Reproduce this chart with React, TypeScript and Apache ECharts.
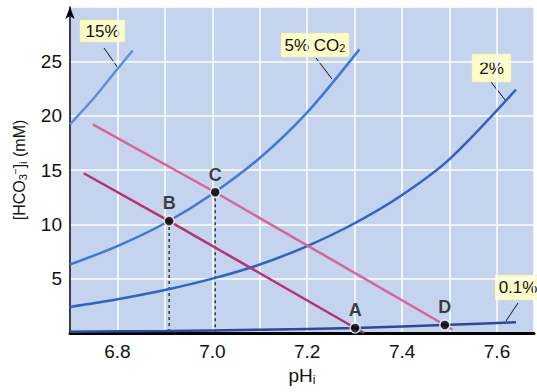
import React, { useEffect, useRef } from "react";
import * as echarts from "echarts";

// pH (x) / [HCO3-]i mM (y)
const curve15: [number, number][] = [[6.7, 19.2], [6.75, 21.6], [6.8, 24.3], [6.832, 26.0]];
const curve5: [number, number][] = [[6.7, 6.3], [6.8, 8.0], [6.9, 10.1], [7.0, 12.8], [7.1, 16.1], [7.2, 20.3], [7.31, 26.1]];
const curve2: [number, number][] = [[6.7, 2.4], [6.8, 3.1], [6.9, 3.95], [7.0, 5.0], [7.1, 6.3], [7.2, 8.0], [7.3, 10.1], [7.4, 12.7], [7.5, 16.0], [7.64, 22.4]];
const curve01: [number, number][] = [[6.7, 0.12], [6.9, 0.19], [7.1, 0.3], [7.3, 0.46], [7.5, 0.75], [7.64, 1.0]];
const bufferDark: [number, number][] = [[6.729, 14.7], [6.909, 10.3], [7.301, 0.46], [7.32, 0.0]];
const bufferLight: [number, number][] = [[6.748, 19.2], [7.006, 12.95], [7.49, 0.74], [7.506, 0.3]];
const pointNames = ["A", "B", "C", "D"];
const pointPH = [7.301, 6.909, 7.006, 7.49];
const pointHCO3 = [0.46, 10.3, 12.95, 0.74];
const dropB: [number, number][] = [[6.909, 10.3], [6.909, 0]];
const dropC: [number, number][] = [[7.006, 12.95], [7.006, 0]];

const FONT = "'Liberation Sans', Arial, sans-serif";

function callout(x: number, y: number, w: number, h: number, text: string, leader: number[], rich?: any) {
  return {
    type: "group",
    children: [
      { type: "line", shape: { x1: leader[0], y1: leader[1], x2: leader[2], y2: leader[3] }, style: { stroke: "#111", lineWidth: 1 } },
      { type: "rect", shape: { x, y, width: w, height: h }, style: { fill: "#fdfbc6", stroke: "#eeeab0", lineWidth: 0.5 } },
      {
        type: "text",
        style: {
          text,
          x: x + w / 2,
          y: y + h / 2,
          align: "center",
          verticalAlign: "middle",
          fontFamily: FONT,
          fontSize: 17,
          fill: "#111",
          rich,
        },
      },
    ],
  };
}

export default function App() {
  const ref = useRef<HTMLDivElement>(null);
  useEffect(() => {
    const chart = echarts.init(ref.current!, null, { renderer: "svg" });
    const lineS = (data: [number, number][], color: string, width = 2.5, z = 2) => ({
      type: "line",
      data,
      showSymbol: false,
      symbol: "none",
      smooth: 0.3,
      lineStyle: { color, width },
      z,
    });
    chart.setOption({
      animation: false,
      backgroundColor: "#ffffff",
      grid: { left: 70, right: 0, top: 7, bottom: 59, backgroundColor: "#c4d3ee", show: true, borderWidth: 0 },
      xAxis: {
        type: "value",
        min: 6.7,
        max: 7.678,
        interval: 0.1,
        name: "pH{s|i}",
        nameLocation: "middle",
        nameGap: 30,
        nameTextStyle: {
          fontFamily: FONT,
          fontSize: 19,
          color: "#111",
          lineHeight: 20,
          rich: { s: { fontFamily: FONT, fontSize: 12, lineHeight: 12, verticalAlign: "bottom", color: "#111" } },
        },
        axisLine: { show: true, onZero: false, lineStyle: { color: "#000", width: 3 } },
        axisTick: { show: false },
        axisLabel: {
          fontFamily: FONT,
          fontSize: 19,
          color: "#111",
          margin: 9,
          formatter: (v: number) => {
            const t = Math.round(v * 10);
            if (Math.abs(v * 10 - t) > 1e-6) return "";
            return t % 2 === 0 ? v.toFixed(1) : "";
          },
        },
        splitLine: { show: true, lineStyle: { color: "#ffffff", width: 1.5 } },
      },
      yAxis: {
        type: "value",
        min: 0,
        max: 30,
        interval: 5,
        name: "[HCO{s|3}{p|−}]{s|i} (mM)",
        nameLocation: "middle",
        nameRotate: 90,
        nameGap: 42,
        nameTextStyle: {
          fontFamily: FONT,
          fontSize: 16,
          color: "#111",
          lineHeight: 18,
          rich: {
            s: { fontFamily: FONT, fontSize: 11, lineHeight: 11, verticalAlign: "bottom", color: "#111" },
            p: { fontFamily: FONT, fontSize: 10, lineHeight: 10, verticalAlign: "top", color: "#111" },
          },
        },
        axisLine: { show: true, onZero: false, symbol: ["none", "arrow"], symbolSize: [7, 12], lineStyle: { color: "#000", width: 1.5 } },
        axisTick: { show: false },
        axisLabel: {
          fontFamily: FONT,
          fontSize: 19,
          color: "#111",
          margin: 8,
          formatter: (v: number) => (v === 0 || v === 30 ? "" : String(v)),
        },
        splitLine: { show: true, lineStyle: { color: "#ffffff", width: 1.5 } },
      },
      series: [
        lineS(curve15, "#5b8ee0"),
        lineS(curve5, "#3f79d8"),
        lineS(curve2, "#2e63c8"),
        lineS(curve01, "#284b9c", 2.5, 3),
        { ...lineS(bufferDark, "#b8336f"), smooth: false },
        { ...lineS(bufferLight, "#da6499"), smooth: false },
        { type: "line", data: dropB, symbol: "none", lineStyle: { color: "#111", width: 1.2, type: [3, 3] }, z: 1 },
        { type: "line", data: dropC, symbol: "none", lineStyle: { color: "#111", width: 1.2, type: [3, 3] }, z: 1 },
        {
          type: "scatter",
          data: pointNames.map((n, i) => ({ name: n, value: [pointPH[i], pointHCO3[i]] })),
          symbolSize: 10,
          itemStyle: { color: "#000", borderColor: "#fff", borderWidth: 1.5 },
          label: {
            show: true,
            position: "top",
            distance: 3,
            formatter: (p: any) => p.name,
            fontFamily: FONT,
            fontWeight: "bold",
            fontSize: 18,
            color: "#111",
          },
          z: 5,
        },
      ],
      graphic: [
        callout(80, 20, 45, 22, "15%", [104, 48, 118, 68]),
        callout(281, 33, 68, 24, "5% CO{s|2}", [316, 58, 332, 79], {
          s: { fontFamily: FONT, fontSize: 11, lineHeight: 11, verticalAlign: "bottom", fill: "#111" },
        }),
        callout(472, 54, 39, 28, "2%", [491, 82, 506, 101]),
        callout(495, 275, 46, 25, "0.1%", [518, 303, 506, 321]),
      ],
    });
    return () => chart.dispose();
  }, []);
  return <div ref={ref} style={{ position: "fixed", left: 0, top: 0, width: 537, height: 392 }} />;
}
